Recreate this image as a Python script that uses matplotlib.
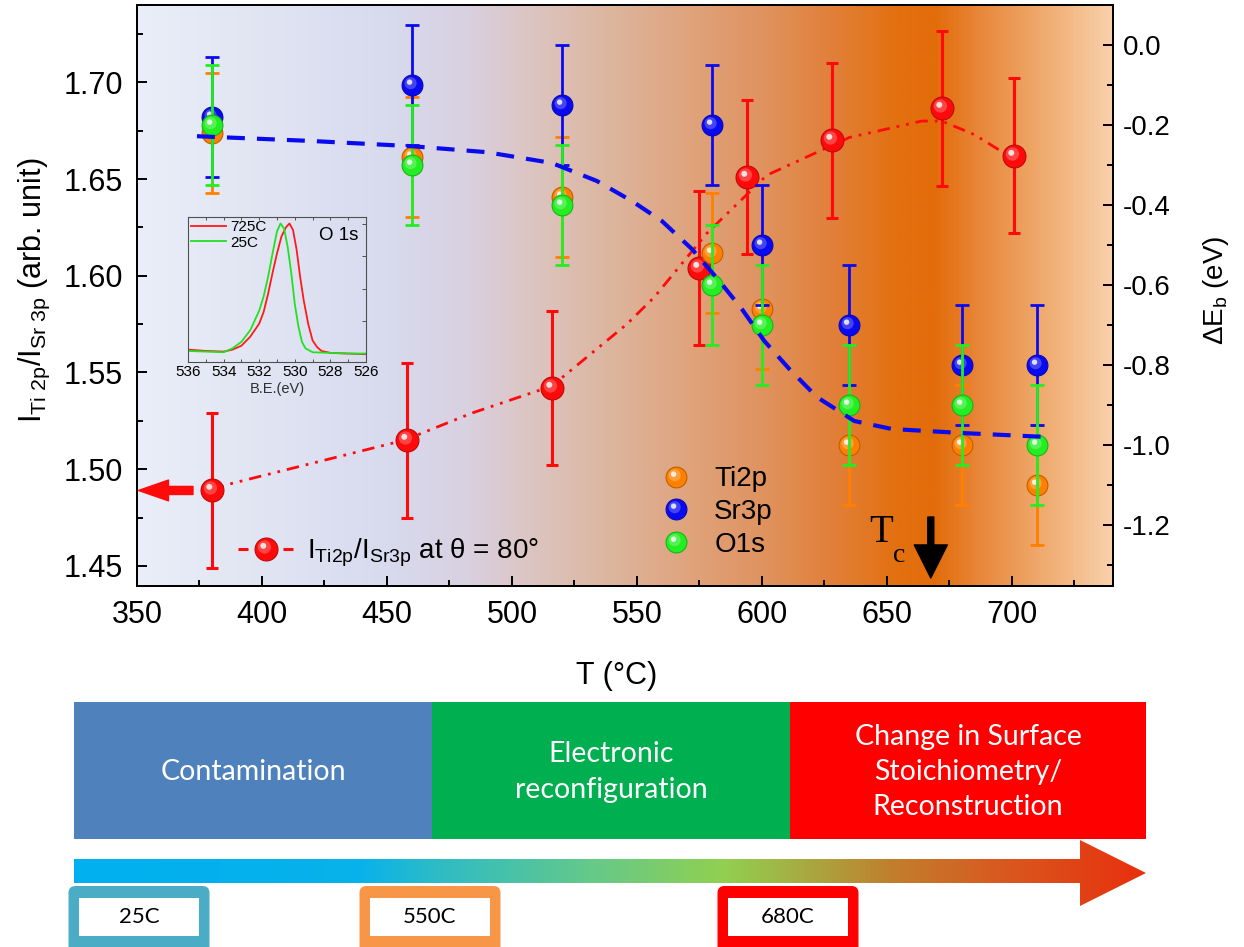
import numpy as np
import matplotlib
matplotlib.use('Agg')
import matplotlib.pyplot as plt
from matplotlib.path import Path
from matplotlib.lines import Line2D
from matplotlib.legend_handler import HandlerTuple
from matplotlib.colors import LinearSegmentedColormap, to_rgb
from matplotlib.patches import Polygon, Rectangle, FancyBboxPatch, FancyArrowPatch
from matplotlib.ticker import MultipleLocator, FormatStrFormatter

plt.rcParams['font.family'] = ['Liberation Sans', 'DejaVu Sans']
plt.rcParams['mathtext.fontset'] = 'custom'
plt.rcParams['mathtext.rm'] = 'Liberation Sans'
plt.rcParams['mathtext.it'] = 'Liberation Sans:italic'
plt.rcParams['mathtext.bf'] = 'Liberation Sans:bold'
plt.rcParams['axes.unicode_minus'] = False

# ---------------- data ----------------
T_ratio = [380, 458, 516, 575, 594, 628, 672, 701]
ratio = [1.489, 1.515, 1.542, 1.604, 1.651, 1.670, 1.6865, 1.662]
ratio_err = [0.04, 0.04, 0.04, 0.04, 0.04, 0.04, 0.04, 0.04]

fit_T = [380, 386, 423, 457, 484, 516, 546, 557, 578, 602, 635, 664, 672, 685, 695, 701]
fit_ratio = [1.489, 1.492, 1.504, 1.515, 1.529, 1.543, 1.575, 1.589, 1.622, 1.652, 1.6715,
             1.680, 1.680, 1.673, 1.665, 1.661]

T_eb = [380, 460, 520, 580, 600, 635, 680, 710]
ti2p = [-0.22, -0.28, -0.38, -0.52, -0.66, -1.00, -1.00, -1.10]
sr3p = [-0.18, -0.10, -0.15, -0.20, -0.50, -0.70, -0.80, -0.80]
o1s = [-0.20, -0.30, -0.40, -0.60, -0.70, -0.90, -0.90, -1.00]
eb_err = [0.15, 0.15, 0.15, 0.15, 0.15, 0.15, 0.15, 0.15]

guide_T = [374, 420, 460, 490, 516, 534, 548, 560, 572, 583, 592, 601, 611, 622, 637, 652, 680, 714]
guide_eb = [-0.228, -0.24, -0.253, -0.268, -0.295, -0.34, -0.39, -0.44, -0.51, -0.59, -0.66,
            -0.74, -0.81, -0.88, -0.94, -0.96, -0.97, -0.98]

be_hot = [536.0, 535.0, 534.0, 533.5, 533.0, 532.5, 532.0, 531.75, 531.5, 531.25, 531.0, 530.75,
          530.5, 530.3, 530.1, 529.9, 529.7, 529.5, 529.25, 529.0, 528.75, 528.5, 528.0, 527.0, 526.0]
int_hot = [0.03, 0.02, 0.015, 0.03, 0.06, 0.13, 0.23, 0.32, 0.46, 0.62, 0.77, 0.90,
           0.97, 1.00, 0.95, 0.80, 0.59, 0.41, 0.23, 0.10, 0.05, 0.02, 0.005, 0.0, -0.005]
be_rt = [536.0, 535.0, 534.0, 533.5, 533.0, 532.5, 532.0, 531.75, 531.5, 531.25, 531.0, 530.8,
         530.6, 530.4, 530.2, 530.0, 529.8, 529.6, 529.4, 529.0, 528.0, 527.0, 526.0]
int_rt = [0.02, 0.015, 0.01, 0.04, 0.09, 0.18, 0.33, 0.44, 0.59, 0.77, 0.94, 1.00,
          0.96, 0.82, 0.62, 0.38, 0.21, 0.09, 0.04, 0.01, 0.005, 0.0, 0.0]

phase_labels = ['Contamination', 'Electronic\nreconfiguration',
                'Change in Surface\nStoichiometry/\nReconstruction']
temp_labels = ['25C', '550C', '680C']

# ---------------- styles ----------------
W, H = 1244, 947
fig = plt.figure(figsize=(W / 100, H / 100), dpi=100)


def fx(px):
    return px / W


def fy(py):
    return 1 - py / H


XL = (350, 740.5)
YL = (1.4396, 1.740)
YR = (-1.3525, 0.1)

ax = fig.add_axes([fx(137), fy(586), (1113 - 137) / W, (586 - 5) / H])

bg_T = [350, 400, 450, 480, 510, 540, 570, 600, 630, 655, 670, 690, 715, 740.5]
bg_col = ['#e9eef8', '#e1e5f3', '#d8daee', '#d9d1e2', '#dcc4bf', '#ddb59e', '#dfa47e',
          '#e09360', '#e17f38', '#e3700f', '#e36c0a', '#e98a3f', '#f0ad72', '#f9d0ab']
bg_cmap = LinearSegmentedColormap.from_list(
    'bg', [((t - XL[0]) / (XL[1] - XL[0]), c) for t, c in zip(bg_T, bg_col)])
ax.imshow(np.linspace(0, 1, 1000)[None, :], cmap=bg_cmap, aspect='auto',
          extent=[XL[0], XL[1], YL[0], YL[1]], zorder=0, interpolation='bilinear')
ax.set_xlim(*XL)
ax.set_ylim(*YL)

ax2 = ax.twinx()
ax2.set_ylim(*YR)


def circ_marker(cx, cy, r):
    return Path.make_compound_path(
        Path.circle((cx, cy), r),
        Path([(1.0, 1.0), (1.0, 1.0)], [Path.MOVETO, Path.LINETO]))


HL1 = circ_marker(-0.18, 0.22, 0.58)
HL2 = circ_marker(-0.28, 0.32, 0.26)


def mix(c, w):
    r = np.array(to_rgb(c))
    return tuple(r + (1 - r) * w)


def darker(c, f):
    return tuple(np.array(to_rgb(c)) * f)


def gloss_handles(color, ms, line_kw=None):
    base = dict(ls='none')
    if line_kw:
        base = line_kw
    h0 = Line2D([], [], marker='o', ms=ms, mfc=color, mec=darker(color, 0.75), mew=0.8, **base)
    h1 = Line2D([], [], ls='none', marker=HL1, ms=ms, mfc=mix(color, 0.3), mew=0, alpha=0.8)
    h2 = Line2D([], [], ls='none', marker=HL2, ms=ms, mfc=mix(color, 0.9), mew=0, alpha=0.95)
    return (h0, h1, h2)


def gloss_errorbar(a, x, y, err, color, ms, capsize, lw, z):
    a.errorbar(x, y, yerr=err, fmt='none', ecolor=color, elinewidth=lw, capsize=capsize,
               capthick=lw, zorder=z)
    a.plot(x, y, ls='none', marker='o', ms=ms, mfc=color, mec=darker(color, 0.75), mew=0.8,
           zorder=z + 0.1)
    a.plot(x, y, ls='none', marker=HL1, ms=ms, mfc=mix(color, 0.3), mew=0, alpha=0.8,
           zorder=z + 0.2)
    a.plot(x, y, ls='none', marker=HL2, ms=ms, mfc=mix(color, 0.9), mew=0, alpha=0.95,
           zorder=z + 0.3)


RED = '#ff0a0a'
ORANGE = '#ff8000'
BLUE = '#0a0af0'
GREEN = '#22ee22'

# red ratio series (left axis)
ax.plot(fit_T, fit_ratio, color=RED, lw=2.0, ls=(0, (4.5, 2.5, 1, 2.5, 1, 2.5)), zorder=2)
gloss_errorbar(ax, T_ratio, ratio, ratio_err, RED, 16.5, 4.2, 2.2, 3)

# Eb series (right axis)
gloss_errorbar(ax2, T_eb, ti2p, eb_err, ORANGE, 15, 4.7, 2.0, 3)
gloss_errorbar(ax2, T_eb, sr3p, eb_err, BLUE, 15, 4.7, 2.0, 4)
gloss_errorbar(ax2, T_eb, o1s, eb_err, GREEN, 15, 4.7, 2.0, 5)
ax2.plot(guide_T, guide_eb, color=BLUE, lw=3.0, ls=(0, (4.3, 2.9)), zorder=6)

# ticks / spines
for a in (ax, ax2):
    for s in a.spines.values():
        s.set_linewidth(1.4)
        s.set_color('black')
ax.xaxis.set_major_locator(MultipleLocator(50))
ax.xaxis.set_minor_locator(MultipleLocator(25))
ax.yaxis.set_major_locator(MultipleLocator(0.05))
ax.yaxis.set_minor_locator(MultipleLocator(0.025))
ax.yaxis.set_major_formatter(FormatStrFormatter('%.2f'))
ax.tick_params(which='both', direction='in', top=False, right=False, width=1.4)
ax.tick_params(which='major', length=7.2, labelsize=22, pad=10)
ax.tick_params(which='minor', length=4.3)
ax.tick_params(axis='x', pad=10)
ax2.yaxis.set_major_locator(MultipleLocator(0.2))
ax2.yaxis.set_minor_locator(MultipleLocator(0.1))
ax2.yaxis.set_major_formatter(FormatStrFormatter('%.1f'))
ax2.tick_params(which='both', direction='in', width=1.4)
ax2.tick_params(which='major', length=7.2, labelsize=20, pad=7)
ax2.tick_params(which='minor', length=4.3)
ax2.set_ylim(*YR)

# labels
fig.text(fx(34), fy(290), r'$\mathregular{I_{Ti\ 2p}/I_{Sr\ 3p}}$ (arb. unit)', rotation=90,
         ha='center', va='center', size=22)
fig.text(fx(1216), fy(290), r'Δ$\mathregular{E_b}$ (eV)', rotation=90,
         ha='center', va='center', size=20)
fig.text(fx(617), fy(676), 'T (°C)', ha='center', va='center', size=22)

# legends
hmap = {tuple: HandlerTuple(ndivide=1)}
red_h = gloss_handles(RED, 16.5, dict(color=RED, lw=2.2, ls=(0, (3.27, 11.45))))
leg1 = ax2.legend([red_h], [r'$\mathregular{I_{Ti2p}/I_{Sr3p}}$ at θ = 80°'], handler_map=hmap,
                  loc='center left', bbox_to_anchor=((238 - 137) / 976, (586 - 553) / 581),
                  frameon=False, handlelength=1.98, handletextpad=0.5, borderpad=0,
                  borderaxespad=0, fontsize=20)
ax2.add_artist(leg1)
leg2 = ax2.legend([gloss_handles(ORANGE, 15), gloss_handles(BLUE, 15), gloss_handles(GREEN, 15)],
                  ['Ti2p', 'Sr3p', 'O1s'], handler_map=hmap,
                  loc='center left', bbox_to_anchor=((665 - 137) / 976, (586 - 512) / 581),
                  frameon=False, handlelength=0.8, handletextpad=0.97, borderpad=0,
                  borderaxespad=0, labelspacing=0.24, fontsize=20)

# arrows and Tc
red_arrow = FancyArrowPatch((372.4, 1.489), (350.6, 1.489),
                            arrowstyle='simple,head_length=2.16,head_width=1.5,tail_width=0.58',
                            mutation_scale=10, color=RED, shrinkA=0, shrinkB=0, zorder=8)
ax.add_patch(red_arrow)
tc_arrow = FancyArrowPatch((667.6, -1.18), (667.6, -1.3325),
                           arrowstyle='simple,head_length=2.38,head_width=2.38,tail_width=0.43',
                           mutation_scale=10, color='black', shrinkA=0, shrinkB=0, zorder=8)
ax2.add_patch(tc_arrow)
fig.text(fx(881), fy(532), 'T', family='Liberation Serif', size=28, ha='center', va='center')
fig.text(fx(899), fy(556), 'c', family='Liberation Serif', size=20, ha='center', va='center')

# ---------------- inset ----------------
axi = fig.add_axes([fx(188), fy(362), 178 / W, 145 / H])
axi.set_facecolor('none')
axi.plot(be_hot, int_hot, color='#ff1a1a', lw=1.3, label='725C')
axi.plot(be_rt, int_rt, color='#22e022', lw=1.3, label='25C')
axi.set_xlim(536, 526)
axi.set_ylim(-0.065, 1.05)
axi.xaxis.set_major_locator(MultipleLocator(2))
axi.xaxis.set_minor_locator(MultipleLocator(1))
axi.yaxis.set_major_locator(MultipleLocator(0.25))
axi.yaxis.tick_right()
axi.tick_params(axis='y', which='both', direction='in', right=True, left=False, labelright=False,
                length=3, width=0.7, color='#505050')
axi.tick_params(axis='x', which='both', direction='in', top=True, length=2.5, width=0.7,
                color='#505050', labelsize=11, pad=2)
for s in axi.spines.values():
    s.set_color('#505050')
    s.set_linewidth(0.8)
axi.set_xlabel('B.E.(eV)', fontsize=10.5, labelpad=2, color='#303030')
axi.legend(loc='upper left', fontsize=11, frameon=False, handlelength=2.3, handletextpad=0.25,
           labelspacing=0.1, borderaxespad=0.1, borderpad=0.1)
axi.text(0.955, 0.93, 'O 1s', transform=axi.transAxes, ha='right', va='top', fontsize=13.5)

# ---------------- bottom diagram ----------------
axd = fig.add_axes([0, 0, 1, 1], zorder=-5)
axd.set_xlim(0, W)
axd.set_ylim(H, 0)
axd.axis('off')

phase_edges = [74, 432, 790, 1146]
phase_colors = ['#4f81bd', '#00b050', '#ff0000']
for i, lab in enumerate(phase_labels):
    x0, x1 = phase_edges[i], phase_edges[i + 1]
    axd.add_patch(Rectangle((x0, 702), x1 - x0, 137, facecolor=phase_colors[i], edgecolor='none'))
    axd.text((x0 + x1) / 2, 772, lab, ha='center', va='center', color='white', size=20.5,
             family='Lato', linespacing=1.45)

arrow_poly = Polygon([(74, 859), (1080, 859), (1080, 840), (1146, 873), (1080, 906),
                      (1080, 883), (74, 883)], closed=True, facecolor='none', edgecolor='none')
axd.add_patch(arrow_poly)
ar_x = [74, 360, 440, 590, 725, 815, 890, 1000, 1146]
ar_c = ['#00b0f0', '#08b2ea', '#30bcc4', '#64c98a', '#92d050', '#aaa640', '#c0802e', '#d85a20',
        '#e8300e']
ar_cmap = LinearSegmentedColormap.from_list(
    'ar', [((x - 74) / (1146 - 74), c) for x, c in zip(ar_x, ar_c)])
im = axd.imshow(np.linspace(0, 1, 1000)[None, :], cmap=ar_cmap, aspect='auto',
                extent=[74, 1146, 907, 839], interpolation='bilinear')
im.set_clip_path(arrow_poly)
axd.set_xlim(0, W)
axd.set_ylim(H, 0)

temp_centers = [139, 430, 788]
temp_colors = ['#4bacc6', '#f79646', '#ff0000']
for cx, lab, col in zip(temp_centers, temp_labels, temp_colors):
    axd.add_patch(FancyBboxPatch((cx - 70.5, 886), 141, 75,
                                 boxstyle='round,pad=0,rounding_size=7',
                                 facecolor=col, edgecolor='none'))
    axd.add_patch(Rectangle((cx - 60, 898), 120, 38, facecolor='white', edgecolor='none'))
    axd.text(cx, 917, lab, ha='center', va='center', size=16, family='Lato', color='black')

fig.savefig('out.png', dpi=100)
